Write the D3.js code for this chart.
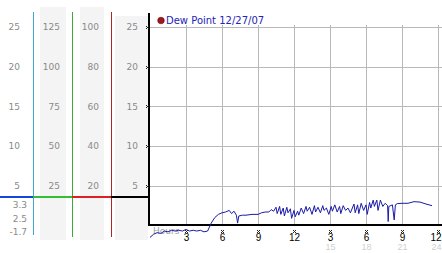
<!DOCTYPE html>
<html><head><meta charset="utf-8">
<script src="https://cdn.jsdelivr.net/npm/d3@7"></script>
<style>body{margin:0;background:#fff}svg{display:block}</style>
</head><body>
<script>
// ---- data ----
const hours = [0,0.3,0.6,0.9,1.2,1.5,1.8,2.1,2.4,2.7,3.0,3.3,3.6,3.9,4.2,4.5,4.8,5.1,5.4,5.7,6.0,6.3,6.6,6.8,7.0,7.2,7.3,7.4,7.7,8.0,8.5,9.0,9.3,9.6,9.9,10.1,10.3,10.5,10.6,10.8,10.9,11.1,11.2,11.4,11.5,11.7,11.8,12.0,12.1,12.3,12.4,12.6,12.8,13.0,13.1,13.3,13.5,13.7,13.8,14.0,14.2,14.4,14.5,14.7,14.9,15.1,15.2,15.4,15.6,15.8,15.9,16.1,16.3,16.5,16.7,17.0,17.1,17.3,17.4,17.6,17.8,18.0,18.1,18.3,18.4,18.6,18.7,18.9,19.0,19.2,19.4,19.6,19.8,19.85,19.9,20.2,20.35,20.45,20.6,21.0,21.5,22.0,22.5,23.0,23.5];
const dewPoint = [-1.5,-1.1,-0.9,-1.0,-0.7,-0.8,-0.6,-0.7,-0.6,-0.7,-0.5,-0.7,-0.6,-0.7,-0.6,-0.8,-0.7,0.3,1.0,1.4,1.6,1.7,1.9,1.5,1.8,1.3,0.3,1.2,1.3,1.3,1.4,1.4,1.6,1.7,1.7,2.0,1.8,2.3,1.5,2.4,1.4,2.2,1.2,2.3,1.6,2.1,0.9,1.9,1.1,1.8,1.3,2.2,1.5,2.4,1.8,2.3,1.4,2.5,1.7,2.3,1.6,2.5,1.9,2.2,1.4,2.4,1.8,2.6,1.7,2.4,1.5,2.5,1.9,2.2,1.6,2.7,1.6,2.6,1.5,2.8,1.9,2.6,1.4,2.9,2.2,3.2,2.4,3.2,1.9,3.2,2.4,2.8,2.5,0.5,2.4,2.6,0.7,2.6,2.75,2.8,2.8,3.0,2.95,2.7,2.5];
const seriesName = "Dew Point 12/27/07";
const yTicks = [5,10,15,20,25];
const col2Ticks = [25,50,75,100,125];
const col3Ticks = [20,40,60,80,100];
const xTicks = [3,6,9,12,15,18,21,24];
const xLabels = ["3","6","9","12","3","6","9","12"];
const x24Ticks = [15,18,21,24];
const statLabels = ["3.3","2.5","-1.7"];

// ---- drawing ----
const W=442,H=253;
const svg=d3.select("body").append("svg").attr("width",W).attr("height",H);
const x=d3.scaleLinear().domain([0,24]).range([150,438]);
const y=d3.scaleLinear().domain([0,25]).range([225.5,27]);
const y2=d3.scaleLinear().domain([0,125]).range([225.5,27]);
const y3=d3.scaleLinear().domain([0,100]).range([225.5,27]);
const grayTxt="#8a8a8a", font="DejaVu Sans, Verdana, sans-serif";

// gray column backgrounds
[[40,7,26],[80,7,24],[115,16,33]].forEach(([x0,y0,w])=>{
  svg.append("rect").attr("x",x0).attr("y",y0).attr("width",w).attr("height",240-y0).attr("fill","#f4f4f4");
});

function colLabels(ticks,scale,rx){
  svg.append("g").selectAll("text").data(ticks).join("text")
    .attr("x",rx).attr("y",d=>scale(d)).attr("dy","0.35em")
    .attr("text-anchor","end").attr("fill",grayTxt)
    .style("font-family",font).style("font-size","9px").text(d=>d);
}
colLabels(yTicks,y,20);
colLabels(col2Ticks,y2,60);
colLabels(col3Ticks,y3,99);
colLabels(yTicks,y,138);

// vertical colored lines
[[33.5,"#3fa6cf",235],[72.5,"#3aaa3a",237],[111.5,"#b02424",237]].forEach(([xx,c,yb])=>{
  svg.append("line").attr("x1",xx).attr("x2",xx).attr("y1",12).attr("y2",yb).attr("stroke",c).attr("stroke-width",1);
});
// thick horizontal band line
[[0,33,"#1446dc"],[33,72,"#34c034"],[72,111,"#e02020"],[111,149,"#000"]].forEach(([a,b,c])=>{
  svg.append("line").attr("x1",a).attr("x2",b).attr("y1",197).attr("y2",197).attr("stroke",c).attr("stroke-width",2);
});
// stat labels
svg.append("g").selectAll("text").data(statLabels).join("text")
  .attr("x",27).attr("y",(d,i)=>205+i*13.5).attr("dy","0.35em").attr("text-anchor","end")
  .attr("fill",grayTxt).style("font-family",font).style("font-size","9px").text(d=>d);

// grid
svg.append("g").selectAll("line").data(yTicks).join("line")
  .attr("x1",150).attr("x2",W).attr("y1",d=>Math.round(y(d))+0.5).attr("y2",d=>Math.round(y(d))+0.5)
  .attr("stroke","#b9b9b9");
svg.append("g").selectAll("line").data(xTicks).join("line")
  .attr("x1",d=>Math.round(x(d))+0.5).attr("x2",d=>Math.round(x(d))+0.5).attr("y1",25).attr("y2",225)
  .attr("stroke","#b9b9b9");

// axes lines
svg.append("line").attr("x1",149).attr("x2",149).attr("y1",13).attr("y2",226).attr("stroke","#000").attr("stroke-width",2);
svg.append("line").attr("x1",148).attr("x2",W).attr("y1",225).attr("y2",225).attr("stroke","#000").attr("stroke-width",2);

// small tick glyphs
function glyph(cx,cy){
  const pts=[[-1,-1],[1,-1],[0,0],[-1,1],[1,1]];
  svg.append("g").selectAll("rect").data(pts).join("rect")
    .attr("x",d=>cx+d[0]).attr("y",d=>cy+d[1]).attr("width",1).attr("height",1).attr("fill","#222");
}
yTicks.forEach(t=>glyph(147,Math.round(y(t))));
xTicks.forEach(t=>glyph(Math.min(Math.round(x(t)),439),231));

// "Hours" label
svg.append("text").attr("x",153).attr("y",234).attr("fill","#a0a0a0")
  .style("font-family",font).style("font-size","9px").text("Hours");

// x axis labels
const ax=d3.axisBottom(x).tickValues(xTicks).tickSize(0).tickFormat((d,i)=>xLabels[i]);
const gx=svg.append("g").attr("transform","translate(0,233)").call(ax);
gx.select(".domain").remove();
gx.selectAll("text").attr("fill","#000").attr("dy","0.5em").style("font-family","Liberation Sans, Arial, sans-serif").style("font-size","10px");
const ax2=d3.axisBottom(x).tickValues(x24Ticks).tickSize(0).tickFormat(d=>d);
const gx2=svg.append("g").attr("transform","translate(0,242)").call(ax2);
gx2.select(".domain").remove();
gx2.selectAll("text").attr("fill","#cfcfcf").attr("dy","0.5em").style("font-family","Liberation Sans, Arial, sans-serif").style("font-size","9px");
// keep the last labels inside the picture
[gx,gx2].forEach(g=>{
  g.selectAll(".tick").filter(d=>d===24).select("text").attr("text-anchor","end").attr("x",441-x(24));
});

// line
const line=d3.line().x((d,i)=>x(hours[i])).y(d=>y(d));
svg.append("path").datum(dewPoint).attr("d",line).attr("fill","none").attr("stroke","#1a1aa8").attr("stroke-width",1);

// legend
svg.append("circle").attr("cx",161).attr("cy",20.5).attr("r",3.3).attr("fill","#a01818").attr("stroke","#601010").attr("stroke-width",0.6);
svg.append("text").attr("x",166).attr("y",20.5).attr("dy","0.35em").attr("fill","#2424b8")
  .style("font-family",font).style("font-size","10px").text(seriesName);
</script>
</body></html>
